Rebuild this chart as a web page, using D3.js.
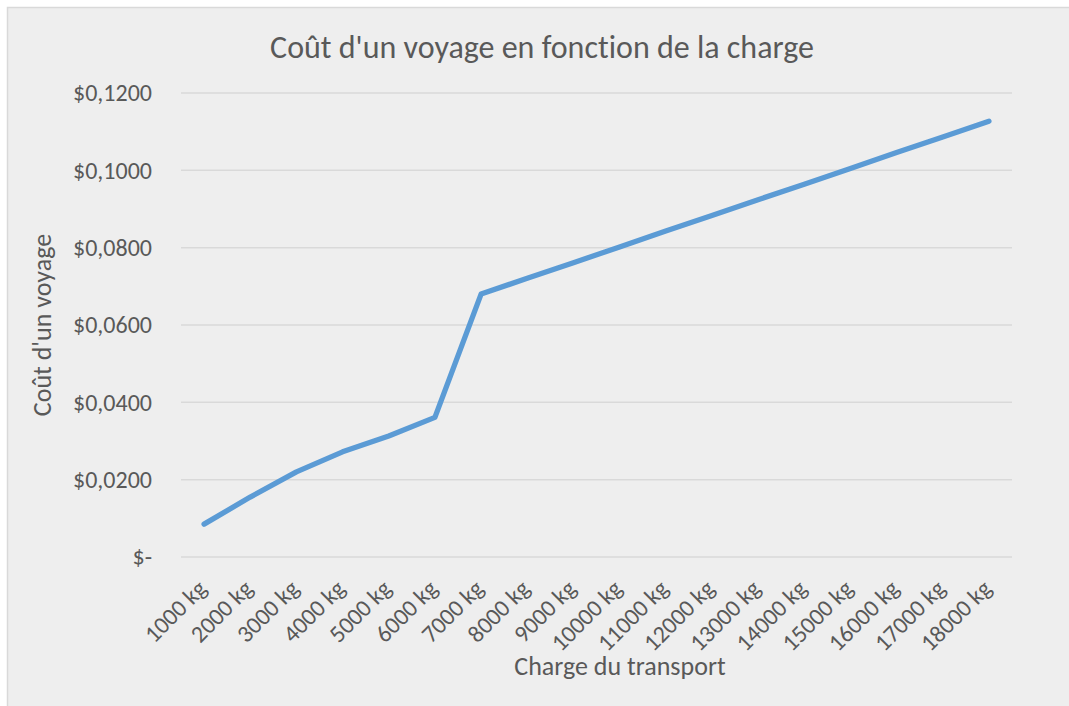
<!DOCTYPE html>
<html>
<head>
<meta charset="utf-8">
<script src="https://cdn.jsdelivr.net/npm/d3@7"></script>
<style>
  html, body { margin: 0; padding: 0; background: #ffffff; }
  svg { display: block; }
  text { font-family: Carlito, Calibri, "Open Sans", sans-serif; fill: #595959; font-variant-ligatures: none; font-feature-settings: "liga" 0; }
</style>
</head>
<body>
<svg id="chart" width="1069" height="706"></svg>
<script>
const categories = ["1000 kg","2000 kg","3000 kg","4000 kg","5000 kg","6000 kg","7000 kg","8000 kg","9000 kg","10000 kg","11000 kg","12000 kg","13000 kg","14000 kg","15000 kg","16000 kg","17000 kg","18000 kg"];
const costValues = [0.0085, 0.0155, 0.0220, 0.0272, 0.0313, 0.0361, 0.0680, 0.0721, 0.0761, 0.0802, 0.0843, 0.0883, 0.0924, 0.0964, 0.1005, 0.1046, 0.1086, 0.1127];
const yTickValues = [0, 0.02, 0.04, 0.06, 0.08, 0.10, 0.12];
const yTickLabels = ["$-", "$0,0200", "$0,0400", "$0,0600", "$0,0800", "$0,1000", "$0,1200"];
const chartTitle = "Coût d'un voyage en fonction de la charge";
const xTitle = "Charge du transport";
const yTitle = "Coût d'un voyage";

const svg = d3.select("#chart");
const W = 1069, H = 706;
const plot = { left: 181, right: 1012, top: 93, bottom: 557 };

// chart area background
svg.append("rect")
  .attr("x", 7.5).attr("y", 7.5)
  .attr("width", W).attr("height", H)
  .attr("fill", "#eeeeee")
  .attr("stroke", "#d9d9d9").attr("stroke-width", 1.5);

const x = d3.scaleBand().domain(categories).range([plot.left, plot.right]).paddingInner(0).paddingOuter(0);
const y = d3.scaleLinear().domain([0, 0.12]).range([plot.bottom, plot.top]);
const cx = d => x(d) + x.bandwidth() / 2;

// gridlines
svg.append("g").selectAll("line").data(yTickValues).join("line")
  .attr("x1", plot.left).attr("x2", plot.right)
  .attr("y1", d => y(d)).attr("y2", d => y(d))
  .attr("stroke", "#d9d9d9").attr("stroke-width", 1.5);

// y tick labels
svg.append("g").selectAll("text").data(yTickValues).join("text")
  .attr("x", 152).attr("y", d => y(d))
  .attr("dy", "0.35em")
  .attr("text-anchor", "end")
  .attr("font-size", 24)
  .text((d, i) => yTickLabels[i]);

// x tick labels
svg.append("g").selectAll("text").data(categories).join("text")
  .attr("text-anchor", "end")
  .attr("font-size", 24)
  .attr("transform", d => `translate(${cx(d) + 4},${590}) rotate(-45)`)
  .text(d => d);

// line
const line = d3.line().x((d, i) => cx(categories[i])).y(d => y(d));
svg.append("path")
  .datum(costValues)
  .attr("d", line)
  .attr("fill", "none")
  .attr("stroke", "#5b9bd5")
  .attr("stroke-width", 5.3)
  .attr("stroke-linejoin", "round")
  .attr("stroke-linecap", "round");

// title
svg.append("text")
  .attr("x", 542).attr("y", 58)
  .attr("text-anchor", "middle")
  .attr("font-size", 32)
  .text(chartTitle);

// axis titles
svg.append("text")
  .attr("x", 620).attr("y", 675)
  .attr("text-anchor", "middle")
  .attr("font-size", 26)
  .text(xTitle);

svg.append("text")
  .attr("transform", "translate(51,325) rotate(-90)")
  .attr("text-anchor", "middle")
  .attr("font-size", 26)
  .text(yTitle);
</script>
</body>
</html>
